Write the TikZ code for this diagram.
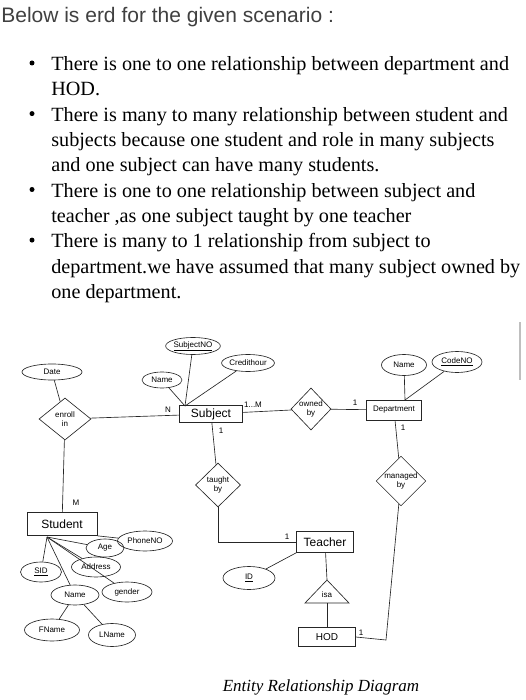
\documentclass[tikz,border=0pt]{standalone}
\usepackage{fontspec}
\setmainfont{Liberation Serif}
\setsansfont{Liberation Sans}
\usetikzlibrary{shapes.geometric}
\tikzset{every picture/.append style={x=1pt, y=-1pt}}
\tikzset{
    entity/.style={rectangle, draw, inner sep=0pt,
    	font=\sffamily\fontsize{12}{14}\selectfont},
    attr/.style={ellipse, draw, inner sep=0pt,
    	font=\sffamily\fontsize{8}{9}\selectfont},
    rel/.style={diamond, draw, inner sep=0pt, align=center,
    	font=\sffamily\fontsize{8}{9}\selectfont},
    card/.style={inner sep=1pt, font=\sffamily\fontsize{8}{9}\selectfont},
    bulletdot/.style={circle, fill, inner sep=0pt, minimum size=5pt},
    bullettext/.style={anchor=north west, align=left, inner sep=0pt,
    	font=\fontsize{20.2}{25.3}\selectfont}
}

\begin{document}
\begin{tikzpicture}[line width=0.65pt, draw=black!85]
	\useasboundingbox (0,0) rectangle (525,700);
	% scenario text
	\node (head) [anchor=base west, inner sep=0pt, text=black!75,
		font=\sffamily\fontsize{21}{25}\selectfont] at (1,22.5)
		{Below is erd for the given scenario :};
	\node (d1) [bulletdot] at (32,63) {};
	\node (d2) [bulletdot] at (32,113.6) {};
	\node (d3) [bulletdot] at (32,189.5) {};
	\node (d4) [bulletdot] at (32,240.1) {};
	\node (b1) [bullettext] at (51,56.2) {There is one to one relationship between department and\\HOD.};
	\node (b2) [bullettext] at (51,106.8) {There is many to many relationship between student and\\subjects because one student and role in many subjects\\and one subject can have many students.};
	\node (b3) [bullettext] at (51,182.7) {There is one to one relationship between subject and\\teacher ,as one subject taught by one teacher};
	\node (b4) [bullettext] at (51,233.3) {There is many to 1 relationship from subject to\\department.we have assumed that many subject owned by\\one department.};
	\draw [gray!50, line width=1.5pt] (520,322) -- (520,380);
	
	% entities and relationships
	\node (date) [attr, minimum width=60, minimum height=16] at (52,372) {Date};
	\node (enroll) [rel, minimum width=52, minimum height=42] at (65,419) {enroll\\in};
	\node (subject) [entity, minimum width=63, minimum height=17] at (211,414) {Subject};
	\node (subname) [attr, minimum width=40, minimum height=16] at (162,380) {Name};
	\node (subno) [attr, minimum width=50, minimum height=17] at (193,346) {\underline{SubjectNO}};
	\node (credit) [attr, minimum width=50, minimum height=17] at (248,363) {Credithour};
	\node (owned) [rel, minimum width=40, minimum height=42] at (311,409) {owned\\by};
	\node (dept) [entity, minimum width=55, minimum height=20,
		font=\sffamily\fontsize{8}{9}\selectfont] at (394,410) {Department};
	\node (deptname) [attr, minimum width=45, minimum height=21] at (404,365) {Name};
	\node (codeno) [attr, minimum width=50, minimum height=21] at (457,362) {\underline{CodeNO}};
	\node (managed) [rel, minimum width=48, minimum height=38] at (401,481) {managed\\by};
	\node (taught) [rel, minimum width=45, minimum height=44] at (218,485) {taught\\by};
	\node (teacher) [entity, minimum width=57, minimum height=21] at (325,542) {Teacher};
	\node (tid) [attr, minimum width=52, minimum height=23] at (249,578) {\underline{ID}};
	\coordinate (isatop) at (327,580);
	\coordinate (isabase) at (327,603);
	\draw (isatop) -- ++(22,23) -- ++(-44,0) -- cycle;
	\node (isa) [card] at (327,595) {isa};
	\node (hod) [entity, minimum width=57, minimum height=19,
		font=\sffamily\fontsize{10}{12}\selectfont] at (327,637) {HOD};
	\node (student) [entity, minimum width=70, minimum height=23] at (62,524) {Student};
	\node (phone) [attr, minimum width=55, minimum height=20] at (145,541) {PhoneNO};
	\node (age) [attr, minimum width=38, minimum height=18] at (105,548) {Age};
	\node (address) [attr, minimum width=49, minimum height=20] at (96,567) {Address};
	\node (sid) [attr, minimum width=41, minimum height=20] at (41,572) {\underline{SID}};
	\node (gender) [attr, minimum width=50, minimum height=20] at (127,592) {gender};
	\node (stuname) [attr, minimum width=48, minimum height=20] at (75,595) {Name};
	\node (fname) [attr, minimum width=55, minimum height=22] at (52,630) {FName};
	\node (lname) [attr, minimum width=47, minimum height=23] at (112,635) {LName};
	
	% cardinalities
	\node (cn) [card] at (168,410) {N};
	\node (c1m) [card] at (253,405) {1...M};
	\node (csub) [card] at (221,431) {1};
	\node (cown) [card] at (355,403) {1};
	\node (cdept) [card] at (403,428) {1};
	\node (cm) [card] at (76,503) {M};
	\node (cteach) [card] at (287,537) {1};
	\node (chod) [card] at (361,633) {1};
	
	% connectors
	\coordinate (subhub) at (185,406);
	\coordinate (depthub) at (405,400);
	\coordinate (stuhub) at (47,537);
	\coordinate (mcorner) at (386,640);
	\draw (date) -- (enroll); \draw (enroll) -- (subject); \draw (enroll) -- (student);
	\draw (subhub) -- (subname); \draw (subhub) -- (subno); \draw (subhub) -- (credit);
	\draw (subject) -- (owned); \draw (owned) -- (dept);
	\draw (depthub) -- (deptname); \draw (depthub) -- (codeno);
	\draw (dept) -- (managed); \draw (managed) -- (mcorner) -- (hod.east);
	\draw (subject) -- (taught); \draw (taught) |- (teacher);
	\draw (teacher.south west) -- (tid);
	\draw (teacher) -- (isatop); \draw (isabase) -- (hod);
	\draw (student.south east) -- (phone);
	\draw (stuhub) -- (age); \draw (stuhub) -- (address); \draw (stuhub) -- (sid);
	\draw (stuhub) -- (gender); \draw (stuhub) -- (stuname);
	\draw (stuname) -- (fname); \draw (stuname) -- (lname);
	
	\node (caption) [font=\itshape\fontsize{17}{20}\selectfont] at (321,687)
		{Entity Relationship Diagram};
\end{tikzpicture}
\end{document}
